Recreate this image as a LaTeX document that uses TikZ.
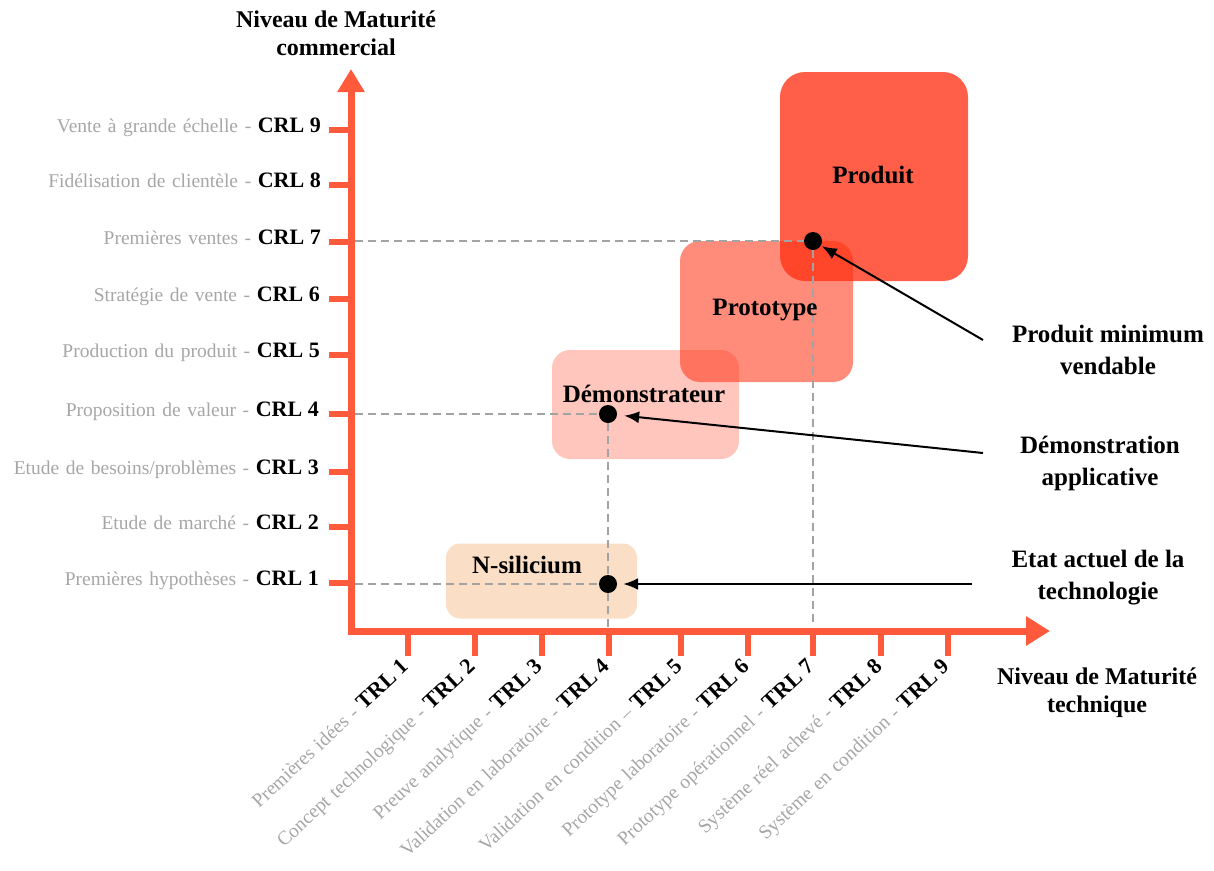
\documentclass[tikz,border=0pt]{standalone}
\usepackage{fontspec}
\setmainfont{Liberation Serif}
\usetikzlibrary{arrows.meta}
\definecolor{axisred}{HTML}{FF5A3C}
\definecolor{graytxt}{HTML}{A6A6A6}
\definecolor{dashgray}{HTML}{A3A3A3}
\definecolor{boxred}{RGB}{255,50,20}
\definecolor{peach}{HTML}{FADEC6}
\newcommand\grtxt[1]{{\color{graytxt}\fontsize{19.5}{19.5}\selectfont\spaceskip=0.34em #1}}
\newcommand\bdtxt[1]{{\fontsize{22}{22}\selectfont\bfseries #1}}
\begin{document}
\begin{tikzpicture}[x=1pt,y=-1pt,
  axis/.style={draw=axisred, line width=7pt, line join=miter},
  tickmark/.style={draw=axisred, line width=6pt},
  guide/.style={draw=dashgray, line width=1.8pt, dash pattern=on 8pt off 5pt},
  pointer/.style={draw=black, line width=2pt, -{Latex[length=15pt,width=12pt]}},
  dot/.style={circle, fill=black, minimum size=18pt, inner sep=0pt},
  stage/.style={rectangle, draw=none, inner sep=0pt, text opacity=1},
  stagelabel/.style={inner sep=0pt, font=\fontsize{25}{25}\selectfont\bfseries},
  crl/.style={anchor=base east, inner sep=0pt},
  trl/.style={anchor=base east, rotate=43, inner sep=0pt},
  side/.style={align=center, inner sep=0pt, font=\fontsize{25}{32}\selectfont\bfseries},
  head/.style={align=center, inner sep=0pt, font=\fontsize{24}{28}\selectfont\bfseries},
]
\useasboundingbox (0,0) rectangle (1214,870);

% stage boxes
\node[stage, fill=peach, rounded corners=14pt, minimum width=191pt, minimum height=75pt] (bnsi) at (541.5,581) {};
\node[stage, fill=boxred, fill opacity=0.28, rounded corners=18pt, minimum width=187pt, minimum height=109pt] (bdemo) at (645.5,404.5) {};
\node[stage, fill=boxred, fill opacity=0.56, rounded corners=20pt, minimum width=173pt, minimum height=141pt] (bproto) at (766.5,311.5) {};
\node[stage, fill=boxred, fill opacity=0.78, rounded corners=25pt, minimum width=188pt, minimum height=209pt] (bprod) at (874,176.5) {};

% axes
\coordinate (O) at (351,631);
\coordinate (ytip) at (351,69);
\coordinate (xtip) at (1050,631);
\draw[axis, {Triangle[length=23pt,width=26pt]}-{Triangle[length=24pt,width=28pt]}] (ytip) -- (O) -- (xtip);

% y ticks
\foreach \yy in {130,185,242,299,355,414,472,527,583}
  \draw[tickmark] (329,\yy) -- (351,\yy);
% x ticks
\foreach \xx in {408,475,542,609,681,748,813,881,948}
  \draw[tickmark] (\xx,631) -- (\xx,656);

% dots
\node[dot] (d7) at (813,241) {};
\node[dot] (d4) at (608,414) {};
\node[dot] (d1) at (608,584) {};

% guide lines
\coordinate (c7) at (355,241);
\coordinate (c4) at (355,414);
\coordinate (c1) at (355,584);
\coordinate (x7) at (813,627);
\coordinate (x4) at (608,627);
\draw[guide] (c7) -- (d7);
\draw[guide] (c4) -- (d4);
\draw[guide] (c1) -- (d1);
\draw[guide] (d7) -- (x7);
\draw[guide] (d4) -- (d1);
\draw[guide] (d1) -- (x4);

% stage labels
\node[stagelabel] (lprod) at (873,175) {Produit};
\node[stagelabel] (lproto) at (765,310) {Prototype};
\node[stagelabel] (ldemo) at (644,394) {Démonstrateur};
\node[stagelabel] (lnsi) at (527,565) {N-silicium};

% CRL labels
\node[crl] (crl9) at (321,132) {\grtxt{Vente à grande échelle - }\bdtxt{CRL 9}};
\node[crl] (crl8) at (321,187) {\grtxt{Fidélisation de clientèle - }\bdtxt{CRL 8}};
\node[crl] (crl7) at (321,244) {\grtxt{Premières ventes - }\bdtxt{CRL 7}};
\node[crl] (crl6) at (320,301) {\grtxt{Stratégie de vente - }\bdtxt{CRL 6}};
\node[crl] (crl5) at (320,357) {\grtxt{Production du produit - }\bdtxt{CRL 5}};
\node[crl] (crl4) at (319,416) {\grtxt{Proposition de valeur - }\bdtxt{CRL 4}};
\node[crl] (crl3) at (319,474) {\grtxt{Etude de besoins/problèmes - }\bdtxt{CRL 3}};
\node[crl] (crl2) at (319,529) {\grtxt{Etude de marché - }\bdtxt{CRL 2}};
\node[crl] (crl1) at (319,585) {\grtxt{Premières hypothèses - }\bdtxt{CRL 1}};

% TRL labels
\node[trl] (trl1) at (410,668) {\grtxt{Premières idées - }\bdtxt{TRL 1}};
\node[trl] (trl2) at (477,668) {\grtxt{Concept technologique - }\bdtxt{TRL 2}};
\node[trl] (trl3) at (544,668) {\grtxt{Preuve analytique - }\bdtxt{TRL 3}};
\node[trl] (trl4) at (611,668) {\grtxt{Validation en laboratoire - }\bdtxt{TRL 4}};
\node[trl] (trl5) at (684,668) {\grtxt{Validation en condition – }\bdtxt{TRL 5}};
\node[trl] (trl6) at (751,668) {\grtxt{Prototype laboratoire - }\bdtxt{TRL 6}};
\node[trl] (trl7) at (816,668) {\grtxt{Prototype opérationnel - }\bdtxt{TRL 7}};
\node[trl] (trl8) at (884,668) {\grtxt{Système réel achevé - }\bdtxt{TRL 8}};
\node[trl] (trl9) at (951,668) {\grtxt{Système en condition - }\bdtxt{TRL 9}};

% axis titles
\node[head] (ytitle) at (336,33) {Niveau de Maturité\\commercial};
\node[head] (xtitle) at (1097,693) {Niveau de Maturité\\technique};

% side labels and pointers
\node[side] (pmv) at (1108,350) {Produit minimum\\vendable};
\node[side] (dapp) at (1100,463) {Démonstration\\applicative};
\node[side] (etat) at (1098,578) {Etat actuel de la\\technologie};
\coordinate (a7) at (983,340);
\coordinate (a4) at (983,453);
\coordinate (a1) at (972,584);
\draw[pointer, shorten >=1pt] (a7) -- (d7);
\draw[pointer, shorten >=7pt] (a4) -- (d4);
\draw[pointer, shorten >=6pt] (a1) -- (d1);
\end{tikzpicture}
\end{document}
